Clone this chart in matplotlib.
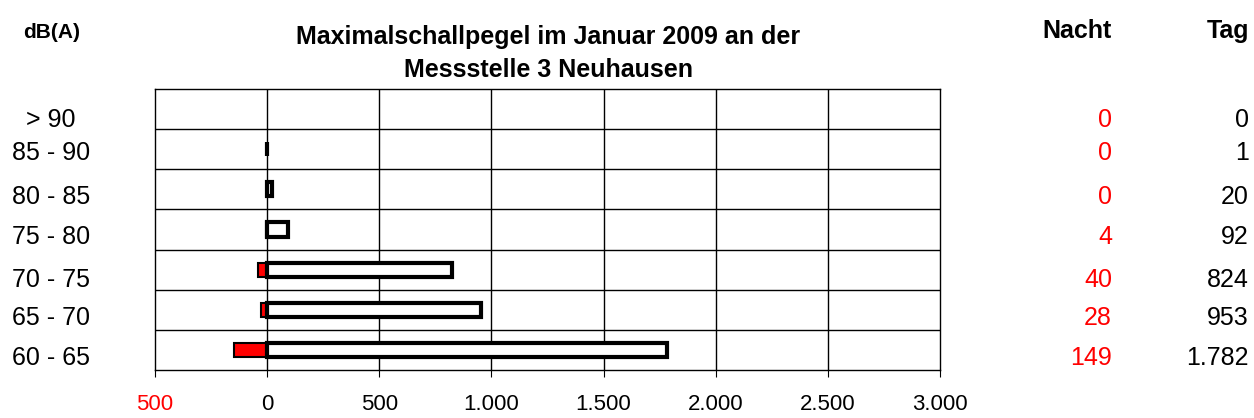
import numpy as np
import matplotlib
matplotlib.use('Agg')
import matplotlib.pyplot as plt

plt.rcParams['font.family'] = ['Liberation Sans', 'DejaVu Sans']

# DATA
klassen = ['60 - 65', '65 - 70', '70 - 75', '75 - 80', '80 - 85', '85 - 90', '> 90']
nacht = [149, 28, 40, 4, 0, 0, 0]
tag = [1782, 953, 824, 92, 20, 1, 0]
xticks = [-500, 0, 500, 1000, 1500, 2000, 2500, 3000]

def de_format(v):
    return '{:,}'.format(abs(int(v))).replace(',', '.')

fig = plt.figure(figsize=(12.54, 4.18), dpi=100)
ax = fig.add_axes([155/1254, 1 - 370/418, 785/1254, 281/418])

y = np.arange(len(klassen))
ax.barh(y, [-v for v in nacht], height=0.35, color='red', edgecolor='black',
        linewidth=[1.5 if v else 0 for v in nacht], zorder=3)
ax.barh(y, tag, height=0.35, color='white', edgecolor='black',
        linewidth=[3 if v else 0 for v in tag], zorder=4)

ax.set_xlim(-500, 3000)
ax.set_ylim(-0.5, len(klassen) - 0.5)
ax.set_xticks(xticks)
ax.set_xticklabels([de_format(v) for v in xticks], fontsize=16)
ax.get_xticklabels()[0].set_color('red')
ax.set_yticks([])
for xv in xticks[1:-1]:
    ax.axvline(xv, color='black', linewidth=1, zorder=1)
for yv in np.arange(0.5, len(klassen) - 0.5):
    ax.axhline(yv, color='black', linewidth=1, zorder=1)
ax.tick_params(axis='x', length=5, direction='out', pad=12.5)
for s in ax.spines.values():
    s.set_color('black')
    s.set_linewidth(1)

# title and headers
fig.text(548/1254, 1 - 37/418, 'Maximalschallpegel im Januar 2009 an der', ha='center', va='center',
         fontsize=18, fontweight='bold')
fig.text(548/1254, 1 - 70/418, 'Messstelle 3 Neuhausen', ha='center', va='center',
         fontsize=18, fontweight='bold')
fig.text(52/1254, 1 - 33/418, 'dB(A)', ha='center', va='center', fontsize=15, fontweight='bold')
fig.text(1112/1254, 1 - 31/418, 'Nacht', ha='right', va='center', fontsize=18, fontweight='bold')
fig.text(1249/1254, 1 - 31/418, 'Tag', ha='right', va='center', fontsize=18, fontweight='bold')

# row labels and value columns
row_y = [358, 318, 280, 237, 197, 153, 120]
for k, n, t, ry in zip(klassen, nacht, tag, row_y):
    fig.text(51/1254, 1 - ry/418, k, ha='center', va='center', fontsize=18)
    fig.text(1112/1254, 1 - ry/418, de_format(n), ha='right', va='center', fontsize=18, color='red')
    fig.text(1249/1254, 1 - ry/418, de_format(t), ha='right', va='center', fontsize=18)

fig.savefig('out.png', dpi=100)
